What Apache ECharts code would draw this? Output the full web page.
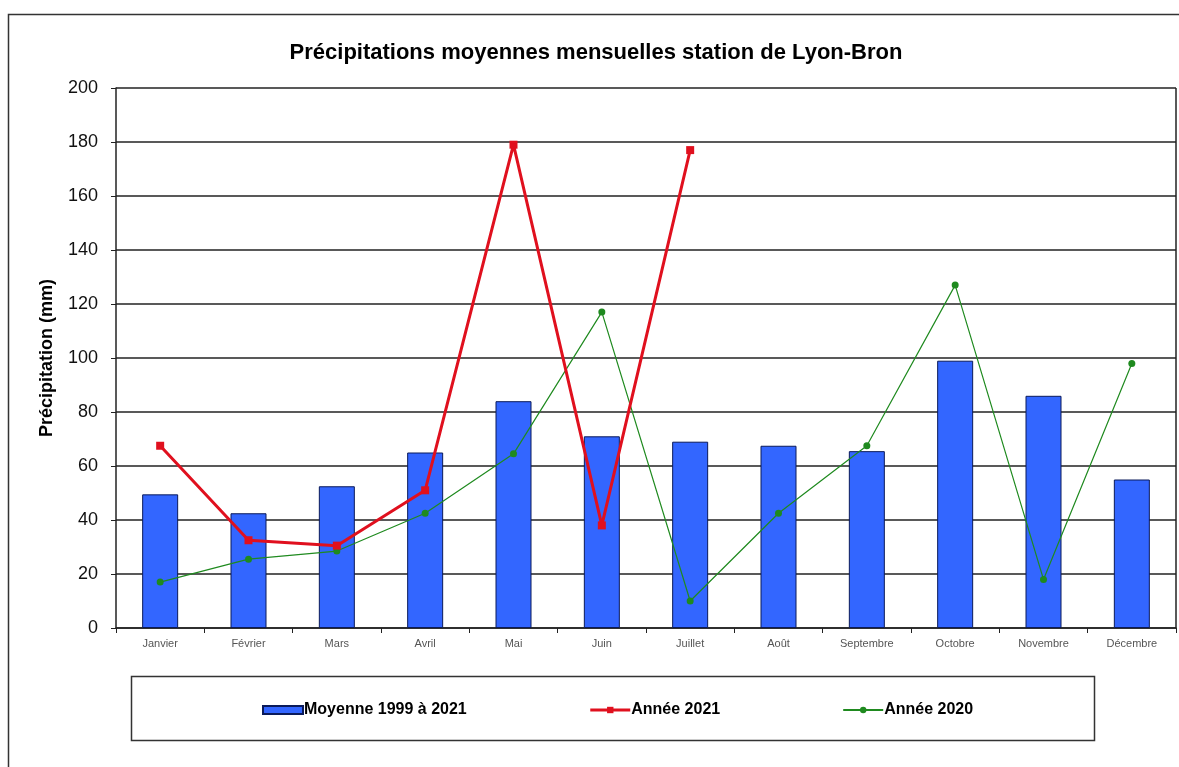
<!DOCTYPE html>
<html>
<head>
<meta charset="utf-8">
<script src="https://cdn.jsdelivr.net/npm/echarts@6/dist/echarts.min.js"></script>
<style>
  html, body { margin: 0; padding: 0; background: #fff; }
  #chart { width: 1179px; height: 767px; }
</style>
</head>
<body>
<div id="chart"></div>
<script>
    var months = ['Janvier', 'Février', 'Mars', 'Avril', 'Mai', 'Juin', 'Juillet', 'Août', 'Septembre', 'Octobre', 'Novembre', 'Décembre'];
    var moyenne = [49.5, 42.5, 52.5, 65, 84, 71, 69, 67.5, 65.5, 99, 86, 55];
    var annee2021 = [67.5, 32.5, 30.5, 51, 179, 38, 177];
    var annee2020 = [17, 25.5, 28.5, 42.5, 64.5, 117, 10, 42.5, 67.5, 127, 18, 98];

    var chart = echarts.init(document.getElementById('chart'));

    var option = {
        animation: false,
        backgroundColor: '#fff',
        title: {
            text: 'Précipitations moyennes mensuelles station de Lyon-Bron',
            left: 591,
            textAlign: 'center',
            top: 37,
            textStyle: { fontFamily: 'Liberation Sans, Arial', fontSize: 22, fontWeight: 'bold', color: '#000' }
        },
        graphic: [
            {   // cadre extérieur
                type: 'rect', shape: { x: 8.5, y: 14.5, width: 1200, height: 800 },
                style: { fill: null, stroke: '#333', lineWidth: 1.5 }, silent: true
            },
            {   // cadre de la légende
                type: 'rect', shape: { x: 131.5, y: 676.5, width: 963, height: 64 },
                style: { fill: null, stroke: '#333', lineWidth: 1.5 }, silent: true
            },
            {   // bord droit du tracé
                type: 'line', shape: { x1: 1176, y1: 88, x2: 1176, y2: 628 },
                style: { stroke: '#222', lineWidth: 1.5 }, silent: true
            }
        ],
        legend: {
            left: 257,
            top: 697,
            itemGap: 122,
            itemWidth: 40,
            itemHeight: 8,
            textStyle: { fontFamily: 'Liberation Sans, Arial', fontSize: 16, fontWeight: 'bold', color: '#000', padding: [0, 0, 0, -4] },
            data: [
                { name: 'Moyenne 1999 à 2021', icon: 'rect' },
                { name: 'Année 2021', lineStyle: { width: 3 } },
                { name: 'Année 2020' }
            ]
        },
        grid: { left: 116, right: 3, top: 88, bottom: 139 },
        xAxis: {
            type: 'category',
            data: months,
            boundaryGap: true,
            axisLine: { lineStyle: { color: '#222', width: 1.5 } },
            axisTick: { show: true, length: 5, inside: false, lineStyle: { color: '#222' } },
            axisLabel: { fontFamily: 'Liberation Sans, Arial', fontSize: 11, color: '#555', margin: 10 }
        },
        yAxis: {
            type: 'value',
            min: 0, max: 200, interval: 20,
            name: 'Précipitation (mm)',
            nameLocation: 'middle',
            nameGap: 60,
            nameTextStyle: { fontFamily: 'Liberation Sans, Arial', fontSize: 18, fontWeight: 'bold', color: '#000' },
            axisLine: { show: true, lineStyle: { color: '#222', width: 1.5 } },
            axisTick: { show: true, length: 5, lineStyle: { color: '#222' } },
            axisLabel: { fontFamily: 'Liberation Sans, Arial', fontSize: 18, color: '#111', margin: 18 },
            splitLine: { lineStyle: { color: '#222', width: 1.5 } }
        },
        series: [
            {
                name: 'Moyenne 1999 à 2021',
                type: 'bar',
                data: moyenne,
                barWidth: 36,
                itemStyle: { color: '#3366ff', borderColor: '#0a1a5a', borderWidth: 1 }
            },
            {
                name: 'Année 2021',
                type: 'line',
                data: annee2021,
                symbol: 'rect',
                symbolSize: 8,
                lineStyle: { color: '#e0101e', width: 3 },
                itemStyle: { color: '#e0101e' },
                z: 4
            },
            {
                name: 'Année 2020',
                type: 'line',
                data: annee2020,
                symbol: 'circle',
                symbolSize: 7,
                lineStyle: { color: '#1f8a1f', width: 1.2 },
                itemStyle: { color: '#1f8a1f' },
                z: 3
            }
        ]
    };

    chart.setOption(option);
</script>
</body>
</html>
